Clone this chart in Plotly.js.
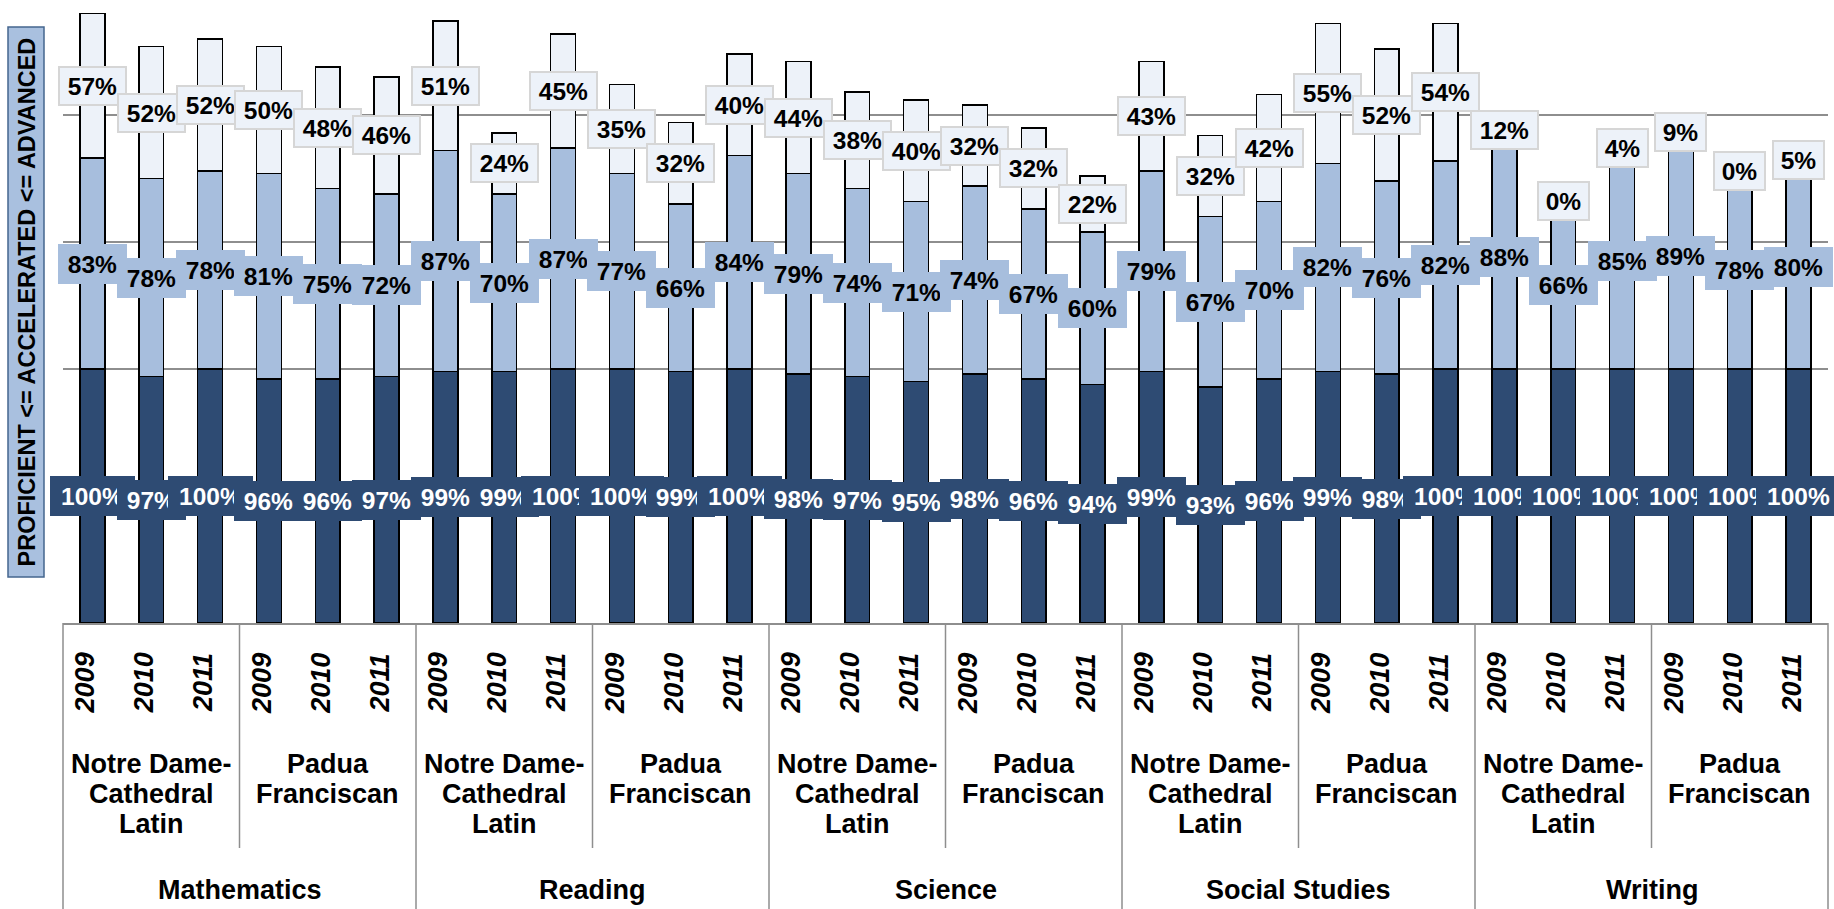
<!DOCTYPE html>
<html><head><meta charset="utf-8">
<script src="https://cdn.plot.ly/plotly-3.0.1.min.js"></script>
<style>html,body{margin:0;padding:0;background:#fff;overflow:hidden}</style>
</head><body><div id="chart" style="width:1834px;height:909px"></div>
<script>
// ---------- data ----------
const subjects = ["Mathematics", "Reading", "Science", "Social Studies", "Writing"];
const schools = ["Notre Dame-Cathedral Latin", "Padua Franciscan"];
const schoolLabelLines = [["Notre Dame-", "Cathedral", "Latin"], ["Padua", "Franciscan"]];
const years = ["2009", "2010", "2011"];
const yAxisTitle = "PROFICIENT &lt;= ACCELERATED &lt;= ADVANCED";

// order: subject > school > year
const proficient  = [100, 97, 100,  96, 96, 97,   99, 99, 100,  100, 99, 100,
                      98, 97, 95,   98, 96, 94,   99, 93, 96,   99, 98, 100,
                     100, 100, 100, 100, 100, 100];
const accelerated = [83, 78, 78,  81, 75, 72,  87, 70, 87,  77, 66, 84,
                     79, 74, 71,  74, 67, 60,  79, 67, 70,  82, 76, 82,
                     88, 66, 85,  89, 78, 80];
const advanced    = [57, 52, 52,  50, 48, 46,  51, 24, 45,  35, 32, 40,
                     44, 38, 40,  32, 32, 22,  43, 32, 42,  55, 52, 54,
                     12, 0, 4,    9, 0, 5];

// ---------- styles ----------
const FONT = "Liberation Sans, Arial, Helvetica, sans-serif";
const C_DARK = "#2E4B73", C_MED = "#A7BEDD", C_LIGHT = "#EDF2F9";
const GRID = "#8E8E8E";

const keys = [];
subjects.forEach(s => schools.forEach(sc => years.forEach(y => keys.push(s + " | " + sc + " | " + y))));
const N = keys.length;

function barTrace(vals, color, name) {
  return {type: "bar", x: keys, y: vals, name: name,
    marker: {color: color, line: {color: "#000", width: 1.5}},
    textposition: "none", hoverinfo: "y"};
}
const data = [
  barTrace(proficient, C_DARK, "Proficient"),
  barTrace(accelerated, C_MED, "Accelerated"),
  barTrace(advanced, C_LIGHT, "Advanced")
];

const annotations = [];
function boxW(t) { return 27 + 16 * (t.length - 1); }
function label(i, yv, v, bg, border, bw, fc) {
  const t = v + "%";
  annotations.push({xref: "x", yref: "y", x: i, y: yv, showarrow: false,
    xanchor: "center", yanchor: "middle",
    text: "<b>" + t + "</b>", font: {family: FONT, size: 24.5, color: fc},
    bgcolor: bg, bordercolor: border, borderwidth: bw, borderpad: 5 - bw,
    width: boxW(t), height: 30});
}
for (let i = 0; i < N; i++) label(i, proficient[i] / 2, proficient[i], C_DARK, C_DARK, 1, "#fff");
for (let i = 0; i < N; i++) label(i, proficient[i] + accelerated[i] / 2, accelerated[i], C_MED, C_MED, 1, "#000");
for (let i = 0; i < N; i++) label(i, proficient[i] + accelerated[i] + advanced[i] / 2, advanced[i], C_LIGHT, "#D6D6D6", 2, "#000");

// category table labels
const axFont = {family: FONT, size: 27, color: "#000"};
for (let i = 0; i < N; i++) {
  annotations.push({xref: "x", yref: "paper", x: i, y: 0, yshift: -60, xshift: -7,
    showarrow: false, xanchor: "center", yanchor: "middle", textangle: -90,
    text: "<b><i>" + years[i % years.length] + "</i></b>", font: axFont});
}
const perSchool = years.length, perSubject = years.length * schools.length;
subjects.forEach((s, si) => {
  schools.forEach((sc, ji) => {
    const cx = si * perSubject + ji * perSchool + (perSchool - 1) / 2;
    schoolLabelLines[ji].forEach((ln, li) => {
      annotations.push({xref: "x", yref: "paper", x: cx, y: 0, yshift: -141 - 30 * li,
        showarrow: false, xanchor: "center", yanchor: "middle",
        text: "<b>" + ln + "</b>", font: axFont});
    });
  });
  annotations.push({xref: "x", yref: "paper", x: si * perSubject + (perSubject - 1) / 2, y: 0, yshift: -267,
    showarrow: false, xanchor: "center", yanchor: "middle",
    text: "<b>" + s + "</b>", font: axFont});
});

// y-axis title
annotations.push({xref: "paper", yref: "paper", x: 0, y: 0, xshift: -36.5, yshift: 321,
  showarrow: false, xanchor: "center", yanchor: "middle", textangle: -90,
  text: "<b>" + yAxisTitle + "</b>", font: {family: FONT, size: 23.5, color: "#000"}});

// table lines
const shapes = [];
for (let k = 0; k <= N; k += perSchool) {
  const long = (k % perSubject === 0);
  shapes.push({type: "line", xref: "paper", yref: "paper", ysizemode: "pixel", yanchor: 0,
    x0: k / N, x1: k / N, y0: 0, y1: long ? -300 : -225,
    line: {color: GRID, width: 1.5}});
}
shapes.push({type: "rect", xref: "paper", yref: "paper", xsizemode: "pixel", ysizemode: "pixel",
  xanchor: 0, yanchor: 0, x0: -55, x1: -19, y0: 46, y1: 596,
  fillcolor: "#A9C0DF", line: {color: "#44658F", width: 1.5}, layer: "below"});

const layout = {
  width: 1834, height: 909,
  margin: {l: 63, r: 6, t: 0, b: 286, pad: 0},
  paper_bgcolor: "#fff", plot_bgcolor: "#fff",
  showlegend: false, barmode: "stack", bargap: 0.58,
  xaxis: {type: "category", range: [-0.5, N - 0.5], autorange: false,
    showticklabels: false, ticks: "", showgrid: false,
    showline: true, linecolor: GRID, linewidth: 1.5, zeroline: false, fixedrange: true},
  yaxis: {range: [0, 245.3], autorange: false, tick0: 0, dtick: 50, showticklabels: false, ticks: "",
    showgrid: true, gridcolor: GRID, gridwidth: 1.2, zeroline: false, showline: false, fixedrange: true},
  annotations: annotations, shapes: shapes
};
Plotly.newPlot("chart", data, layout, {displayModeBar: false, staticPlot: true});
</script></body></html>
